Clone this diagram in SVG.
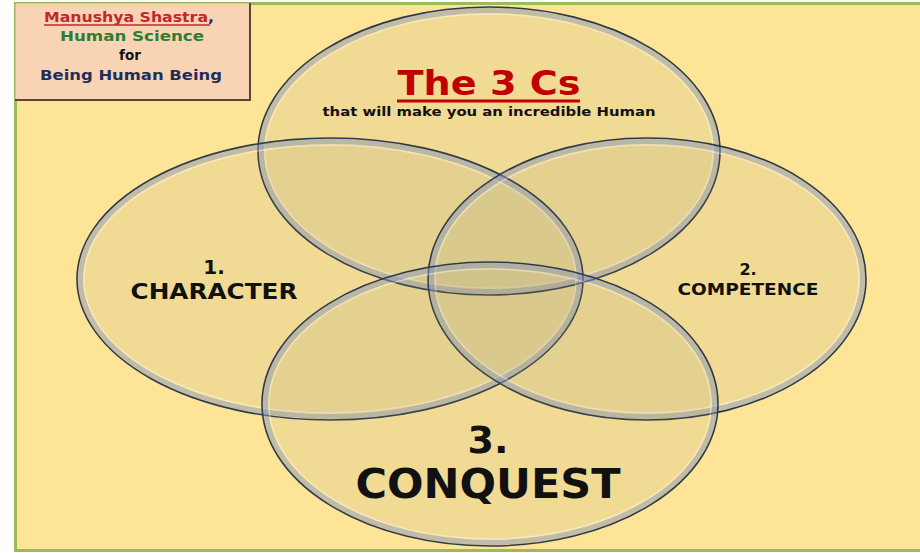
<svg xmlns="http://www.w3.org/2000/svg" width="920" height="553" viewBox="0 0 920 553">
<defs>
<style>
.ell-fill{fill:#8a8a7a;fill-opacity:0.11;}
.ell-band{fill:none;stroke:#8797c4;stroke-width:5;stroke-opacity:0.45;}
.ell-hi{fill:none;stroke:#ffffff;stroke-width:1.5;stroke-opacity:0.4;}
.ell-edge{fill:none;stroke:#2d3a4c;stroke-width:1.6;}
.lbl{font-family:"DejaVu Sans","Open Sans",sans-serif;font-weight:bold;fill:#111111;text-anchor:middle;}
.box{font-family:"DejaVu Sans","Open Sans",sans-serif;font-weight:bold;text-anchor:middle;font-size:13.5px;}
</style>
</defs>
<rect x="0" y="0" width="920" height="553" fill="#ffffff"/>
<rect x="15.5" y="3.5" width="910" height="547" fill="#fee497" stroke="#9bbb59" stroke-width="3"/>

<g id="node-top">
<ellipse class="ell-fill" cx="489" cy="151" rx="231" ry="144"/>
<ellipse class="ell-band" cx="489" cy="151" rx="227.5" ry="140.5"/>
<ellipse class="ell-hi" cx="489" cy="151" rx="224" ry="137"/>
<ellipse class="ell-edge" cx="489" cy="151" rx="231" ry="144"/>
</g>
<g id="node-character">
<ellipse class="ell-fill" cx="330" cy="279" rx="253" ry="141"/>
<ellipse class="ell-band" cx="330" cy="279" rx="249.5" ry="137.5"/>
<ellipse class="ell-hi" cx="330" cy="279" rx="246" ry="134"/>
<ellipse class="ell-edge" cx="330" cy="279" rx="253" ry="141"/>
</g>
<g id="node-competence">
<ellipse class="ell-fill" cx="647" cy="279" rx="219" ry="141"/>
<ellipse class="ell-band" cx="647" cy="279" rx="215.5" ry="137.5"/>
<ellipse class="ell-hi" cx="647" cy="279" rx="212" ry="134"/>
<ellipse class="ell-edge" cx="647" cy="279" rx="219" ry="141"/>
</g>
<g id="node-conquest">
<ellipse class="ell-fill" cx="490" cy="404" rx="228" ry="142"/>
<ellipse class="ell-band" cx="490" cy="404" rx="224.5" ry="138.5"/>
<ellipse class="ell-hi" cx="490" cy="404" rx="221" ry="135"/>
<ellipse class="ell-edge" cx="490" cy="404" rx="228" ry="142"/>
</g>

<g id="connectors"></g>

<g id="title-box">
<rect x="15" y="3" width="235" height="97" fill="#f9d4b4" stroke="#9bbb59" stroke-width="1"/>
<path d="M250 3 V100 H15" fill="none" stroke="#5b4533" stroke-width="2"/>
<text class="box" x="129" y="22" fill="#c0282d" textLength="170" lengthAdjust="spacingAndGlyphs">Manushya Shastra<tspan fill="#1f2d5a">,</tspan></text>
<line x1="44" y1="25" x2="210" y2="25" stroke="#c0282d" stroke-width="1.5"/>
<text class="box" x="132" y="41" fill="#2e7d32" textLength="144" lengthAdjust="spacingAndGlyphs">Human Science</text>
<text class="box" x="130" y="60" fill="#111111">for</text>
<text class="box" x="131" y="80" fill="#1f2d5a" textLength="182" lengthAdjust="spacingAndGlyphs">Being Human Being</text>
</g>

<g id="heading">
<text class="lbl" x="489" y="95" font-size="33" style="fill:#c00000" textLength="183" lengthAdjust="spacingAndGlyphs">The 3 Cs</text>
<line x1="397" y1="101" x2="580" y2="101" stroke="#c00000" stroke-width="3"/>
<text class="lbl" x="489" y="116" font-size="12" textLength="333" lengthAdjust="spacingAndGlyphs">that will make you an incredible Human</text>
</g>

<g id="label-character">
<text class="lbl" x="214" y="274" font-size="20">1.</text>
<text class="lbl" x="214" y="299" font-size="21" textLength="167" lengthAdjust="spacingAndGlyphs">CHARACTER</text>
</g>
<g id="label-competence">
<text class="lbl" x="748" y="275" font-size="16">2.</text>
<text class="lbl" x="748" y="295" font-size="16" textLength="141" lengthAdjust="spacingAndGlyphs">COMPETENCE</text>
</g>
<g id="label-conquest">
<text class="lbl" x="488" y="453" font-size="38">3.</text>
<text class="lbl" x="488" y="498" font-size="40" textLength="265" lengthAdjust="spacingAndGlyphs">CONQUEST</text>
</g>
</svg>
